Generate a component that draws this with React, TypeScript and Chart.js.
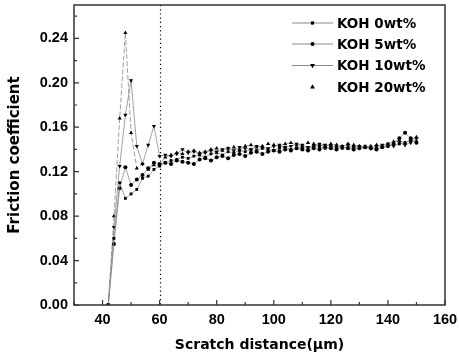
import React, { useEffect, useRef } from "react";
import { Chart, registerables } from "chart.js";

Chart.register(...registerables);

const distance = [
  42, 44, 46, 48, 50, 52, 54, 56, 58, 60,
  62, 64, 66, 68, 70, 72, 74, 76, 78, 80,
  82, 84, 86, 88, 90, 92, 94, 96, 98, 100,
  102, 104, 106, 108, 110, 112, 114, 116, 118, 120,
  122, 124, 126, 128, 130, 132, 134, 136, 138, 140,
  142, 144, 146, 148, 150,
];

const koh0 = [
  0, 0.06, 0.110, 0.096, 0.100, 0.104, 0.114, 0.116, 0.122, 0.125,
  0.128, 0.130, 0.131, 0.133, 0.132,
  0.134, 0.135, 0.133, 0.136, 0.137,
  0.135, 0.138, 0.137, 0.139, 0.138,
  0.140, 0.139, 0.141, 0.140, 0.139,
  0.141, 0.142, 0.140, 0.141, 0.142,
  0.141, 0.143, 0.142, 0.141, 0.142,
  0.143, 0.141, 0.142, 0.141, 0.142,
  0.143, 0.142, 0.141, 0.142, 0.143,
  0.144, 0.145, 0.146, 0.148, 0.147,
];

const koh5 = [
  0, 0.055, 0.105, 0.124, 0.108, 0.113, 0.117, 0.123, 0.128, 0.127,
  0.128, 0.127, 0.130, 0.129, 0.128,
  0.127, 0.131, 0.132, 0.130, 0.133,
  0.134, 0.132, 0.135, 0.136, 0.134,
  0.137, 0.138, 0.136, 0.138, 0.139,
  0.138, 0.140, 0.139, 0.141, 0.140,
  0.139, 0.141, 0.140, 0.142, 0.141,
  0.140, 0.142, 0.141, 0.140, 0.141,
  0.142, 0.141, 0.140, 0.142, 0.143,
  0.145, 0.150, 0.155, 0.150, 0.146,
];

const koh10 = [
  0, 0.07, 0.125, 0.171, 0.202, 0.143, 0.127, 0.144, 0.161, 0.134,
  0.135, 0.134, 0.136, 0.140, 0.137,
  0.138, 0.136, 0.137, 0.139, 0.138,
  0.140, 0.141, 0.139, 0.142, 0.141,
  0.140, 0.143, 0.142, 0.141, 0.143,
  0.144, 0.142, 0.143, 0.145, 0.144,
  0.142, 0.143, 0.145, 0.144, 0.143,
  0.142, 0.143, 0.144, 0.142, 0.143,
  0.142, 0.141, 0.143, 0.144, 0.145,
  0.143, 0.146, 0.144, 0.146, 0.150,
];

const koh20 = [
  0, 0.08, 0.168, 0.245, 0.155, 0.123, 0.127, 0.122, 0.126, 0.126,
  0.133, 0.135, 0.137, 0.136, 0.138,
  0.139, 0.137, 0.138, 0.140, 0.141,
  0.139, 0.141, 0.142, 0.140, 0.143,
  0.144, 0.142, 0.143, 0.145, 0.144,
  0.143, 0.145, 0.146, 0.144, 0.143,
  0.146, 0.145, 0.144, 0.143, 0.145,
  0.144, 0.143, 0.145, 0.144, 0.143,
  0.142, 0.143, 0.144, 0.143, 0.145,
  0.147, 0.148, 0.146, 0.149, 0.151,
];

const seriesLabels = ["KOH 0wt%", "KOH 5wt%", "KOH 10wt%", "KOH 20wt%"];
const xTickValues = [40, 60, 80, 100, 120, 140, 160];
const xMinorTicks = [30, 50, 70, 90, 110, 130, 150];
const yTickValues = [0, 0.04, 0.08, 0.12, 0.16, 0.2, 0.24];
const yMinorTicks = [0.02, 0.06, 0.1, 0.14, 0.18, 0.22, 0.26];
const markerLine = 60;

const FONT = "'Liberation Sans', Arial, sans-serif";
const WIDE = "'DejaVu Sans', sans-serif";

function drawMarker(ctx: CanvasRenderingContext2D, style: string, rot: number, x: number, y: number, r: number) {
  ctx.save();
  ctx.translate(x, y);
  ctx.rotate((rot * Math.PI) / 180);
  ctx.beginPath();
  if (style === "rect") {
    ctx.rect(-r * 0.8, -r * 0.8, r * 1.6, r * 1.6);
  } else if (style === "circle") {
    ctx.arc(0, 0, r, 0, Math.PI * 2);
  } else {
    const h = r * 1.4;
    ctx.moveTo(0, -h);
    ctx.lineTo(h * 0.87, h * 0.5);
    ctx.lineTo(-h * 0.87, h * 0.5);
    ctx.closePath();
  }
  ctx.fillStyle = "#000";
  ctx.fill();
  ctx.restore();
}

const framePlugin = {
  id: "frameAndTicks",
  afterDraw(chart: any) {
    const { ctx, chartArea: a, scales } = chart;
    const xs = scales.x;
    const ys = scales.y;
    ctx.save();
    const vx = Math.round(xs.getPixelForValue(markerLine)) + 0.5;
    ctx.strokeStyle = "#000";
    ctx.lineWidth = 1.2;
    ctx.setLineDash([1.2, 3]);
    ctx.beginPath();
    ctx.moveTo(vx, a.top);
    ctx.lineTo(vx, a.bottom);
    ctx.stroke();
    ctx.setLineDash([]);
    ctx.lineWidth = 1.5;
    ctx.strokeStyle = "#333";
    ctx.strokeRect(a.left, a.top, a.right - a.left, a.bottom - a.top);
    ctx.lineWidth = 1.2;
    ctx.beginPath();
    for (const v of xTickValues) {
      const p = xs.getPixelForValue(v);
      ctx.moveTo(p, a.bottom);
      ctx.lineTo(p, a.bottom - 5);
    }
    for (const v of xMinorTicks) {
      const p = xs.getPixelForValue(v);
      ctx.moveTo(p, a.bottom);
      ctx.lineTo(p, a.bottom - 3);
    }
    for (const v of yTickValues) {
      const p = ys.getPixelForValue(v);
      ctx.moveTo(a.left, p);
      ctx.lineTo(a.left + 5, p);
    }
    for (const v of yMinorTicks) {
      const p = ys.getPixelForValue(v);
      ctx.moveTo(a.left, p);
      ctx.lineTo(a.left + 3, p);
    }
    ctx.stroke();

    const rowY = [23, 44, 65.5, 87];
    const x0 = 292;
    const x1 = 333;
    ctx.font = `bold 13.5px ${WIDE}`;
    ctx.textBaseline = "middle";
    ctx.textAlign = "left";
    chart.data.datasets.forEach((ds: any, i: number) => {
      const y = rowY[i];
      if (ds.legendLine) {
        ctx.strokeStyle = ds.borderColor;
        ctx.lineWidth = 1;
        ctx.beginPath();
        ctx.moveTo(x0, y);
        ctx.lineTo(x1, y);
        ctx.stroke();
      }
      drawMarker(ctx, ds.pointStyle, ds.pointRotation || 0, (x0 + x1) / 2, y, 2);
      ctx.fillStyle = "#000";
      ctx.fillText(ds.label, 337, y + 1);
    });
    ctx.restore();
  },
};

export default function App() {
  const ref = useRef<HTMLCanvasElement | null>(null);
  useEffect(() => {
    if (!ref.current) return;
    const mk = (vals: number[]) => distance.map((x, i) => ({ x, y: vals[i] }));
    const common = {
      borderColor: "#8a8a8a",
      borderWidth: 0.8,
      pointBackgroundColor: "#000",
      pointBorderColor: "#000",
      pointBorderWidth: 0,
      pointRadius: 2,
      tension: 0,
      fill: false,
    };
    const chart = new Chart(ref.current, {
      type: "line",
      data: {
        datasets: [
          { ...common, label: seriesLabels[0], data: mk(koh0), pointStyle: "rect", legendLine: true } as any,
          { ...common, label: seriesLabels[1], data: mk(koh5), pointStyle: "circle", legendLine: true } as any,
          { ...common, label: seriesLabels[2], data: mk(koh10), pointStyle: "triangle", pointRotation: 180, pointRadius: 2.4, legendLine: true } as any,
          { ...common, label: seriesLabels[3], data: mk(koh20), pointStyle: "triangle", pointRadius: 2.4, borderDash: [5, 2], legendLine: false } as any,
        ],
      },
      options: {
        animation: false,
        responsive: false,
        maintainAspectRatio: false,
        layout: { padding: { top: 5, right: 14, left: 0, bottom: 0 } },
        plugins: {
          legend: { display: false },
          tooltip: { enabled: false },
        },
        scales: {
          x: {
            type: "linear",
            min: 30,
            max: 160,
            grid: { display: false, drawTicks: false },
            border: { display: false },
            afterBuildTicks: (s: any) => {
              s.ticks = xTickValues.map((v) => ({ value: v }));
            },
            afterFit: (s: any) => {
              s.height = 55;
              s.paddingLeft = 0;
              s.paddingRight = 0;
            },
            ticks: {
              padding: 6,
              color: "#000",
              font: { family: FONT, size: 14.5, weight: "bold" },
              maxRotation: 0,
              autoSkip: false,
            },
            title: {
              display: true,
              text: "Scratch distance(\u03bcm)",
              color: "#000",
              font: { family: WIDE, size: 14, weight: "bold" },
              padding: { top: 0, bottom: 6 },
            },
          },
          y: {
            type: "linear",
            min: 0,
            max: 0.27,
            grid: { display: false, drawTicks: false },
            border: { display: false },
            afterBuildTicks: (s: any) => {
              s.ticks = yTickValues.map((v) => ({ value: v }));
            },
            afterFit: (s: any) => {
              s.width = 74;
              s.paddingTop = 0;
              s.paddingBottom = 0;
            },
            ticks: {
              padding: 6,
              color: "#000",
              font: { family: FONT, size: 14.5, weight: "bold" },
              callback: (v: any) => Number(v).toFixed(2),
            },
            title: {
              display: true,
              text: "Friction coefficient",
              color: "#000",
              font: { family: WIDE, size: 15, weight: "bold" },
              padding: { top: 6, bottom: 0 },
            },
          },
        },
      },
      plugins: [framePlugin],
    });
    return () => chart.destroy();
  }, []);
  return (
    <div style={{ position: "fixed", left: 0, top: 0, width: 459, height: 360, background: "#fff" }}>
      <canvas ref={ref} width={459} height={360} style={{ width: 459, height: 360 }} />
    </div>
  );
}
